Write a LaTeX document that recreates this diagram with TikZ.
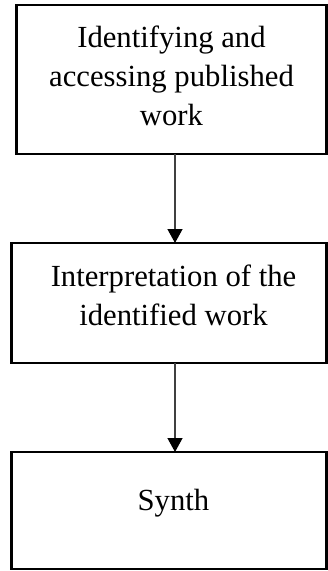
\documentclass[tikz,border=0pt]{standalone}
\usepackage{fontspec}
\setmainfont{Liberation Serif}
\usetikzlibrary{arrows.meta}
\begin{document}
\begin{tikzpicture}[x=1pt,y=-1pt,
  box/.style={draw=black, line width=2.6pt, inner sep=0pt, outer sep=0pt},
  label/.style={font=\fontsize{30.7}{39}\selectfont, align=center, inner sep=0pt, anchor=base},
  link/.style={draw=black!75, line width=1.4pt, -{Triangle[width=15pt,length=14pt,black]}}]
  \useasboundingbox (0,0) rectangle (328,571);
  % the three stages, drawn as empty frames
  \node[box, minimum width=310pt, minimum height=149pt, anchor=north west] (b1) at (16.5,5) {};
  \node[box, minimum width=315pt, minimum height=120pt, anchor=north west] (b2) at (11.5,243) {};
  \node[box, minimum width=315pt, minimum height=117pt, anchor=north west] (b3) at (11.5,452) {};
  % their captions (anchored at the baseline of the last line)
  \node[label] (t1) at (171.5,125) {Identifying and\\accessing published\\work};
  \node[label] (t2) at (173.5,325) {Interpretation of the\\identified work};
  \node[label] (t3) at (173.5,510) {Synth};
  % connectors
  \coordinate (ax) at (175,0);
  \draw[link] (b1.south -| ax) -- (b2.north -| ax);
  \draw[link] (b2.south -| ax) -- (b3.north -| ax);
\end{tikzpicture}
\end{document}
